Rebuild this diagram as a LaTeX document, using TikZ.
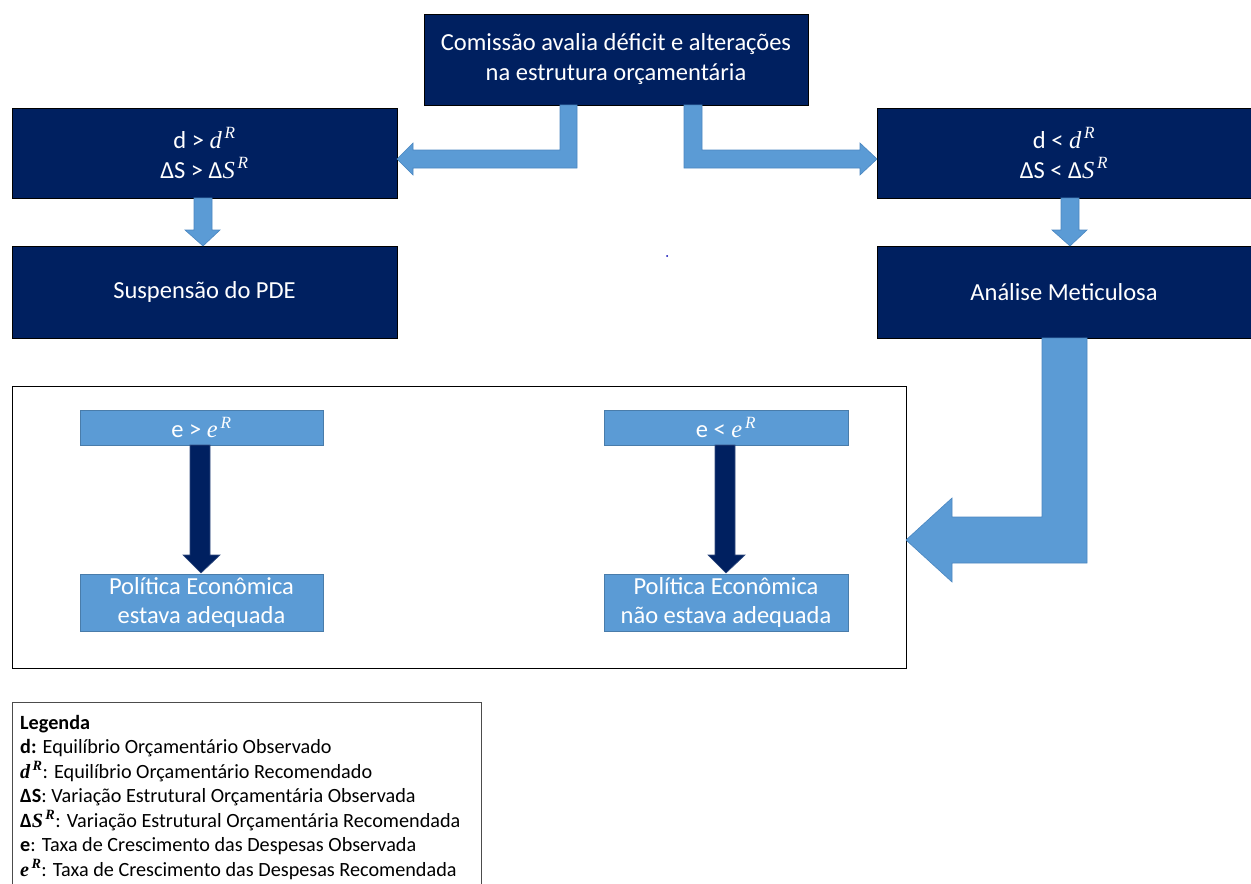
\documentclass[tikz,border=0pt]{standalone}
\usepackage{fontspec}
\setmainfont{Carlito}
\newfontfamily\mathfnt{Liberation Serif}
\newcommand{\mvar}[2]{{\mathfnt\itshape #1\textsuperscript{\,#2}}}
\usetikzlibrary{calc}
\definecolor{navy}{HTML}{002060}
\definecolor{lblue}{HTML}{5B9BD5}
\definecolor{ablue}{HTML}{4A86C0}
\begin{document}
\begin{tikzpicture}[x=1pt,y=-1pt,
  navybox/.style={draw=black,line width=0.8pt,fill=navy,text=white,inner sep=0pt,outer sep=0pt,anchor=north west,align=center,font=\fontsize{24.5}{30}\selectfont},
  bluebox/.style={draw=lblue!80!black,line width=0.6pt,fill=lblue,text=white,inner sep=0pt,outer sep=0pt,anchor=north west,align=center,font=\fontsize{24.5}{29}\selectfont},
  barrow/.style={fill=lblue,draw=ablue,line width=0.6pt,line join=miter},
  darrow/.style={fill=navy,draw=navy!80!white,line width=0.6pt}]
\useasboundingbox (0,0) rectangle (1251,884);
% main boxes
\node[navybox,minimum width=384pt,minimum height=91pt] (top) at (424,14) {Comissão avalia déficit e alterações\\na estrutura orçamentária};
\node[navybox,minimum width=385pt,minimum height=90pt] (L) at (12,108) {d > \mvar{d}{R}\\ΔS > Δ\mvar{S}{R}};
\node[navybox,minimum width=374pt,minimum height=90pt] (R) at (877,108) {d < \mvar{d}{R}\\ΔS < Δ\mvar{S}{R}};
\node[navybox,minimum width=385pt,minimum height=92pt] (S) at (12,246) {Suspensão do PDE};
\node[navybox,minimum width=374pt,minimum height=92pt] (A) at (877,246) {Análise Meticulosa};
% container
\node[draw=black,line width=0.8pt,minimum width=894pt,minimum height=282pt,anchor=north west,inner sep=0pt,outer sep=0pt] (C) at (12,386) {};
% inner boxes
\node[bluebox,minimum width=243pt,minimum height=35pt] (e1) at (80,410) {e > \mvar{e}{R}};
\node[bluebox,minimum width=244pt,minimum height=35pt] (e2) at (604,410) {e < \mvar{e}{R}};
\node[bluebox,minimum width=243pt,minimum height=57pt] (p1) at (80,574) {Política Econômica\\estava adequada};
\node[bluebox,minimum width=244pt,minimum height=57pt] (p2) at (604,574) {Política Econômica\\não estava adequada};
% bent arrows from top
\draw[barrow] (560,105) -- (577,105) -- (577,168) -- (413,168) -- (413,175) -- (L.east |- 0,159) -- (413,143) -- (413,150) -- (560,150) -- cycle;
\draw[barrow] (702,105) -- (684,105) -- (684,168) -- (860,168) -- (860,175) -- (R.west |- 0,159) -- (860,143) -- (860,150) -- (702,150) -- cycle;
% small down arrows
\draw[barrow] (194,198) -- (212,198) -- (212,230) -- (220,230) -- (203,246) -- (185,230) -- (194,230) -- cycle;
\draw[barrow] (1061,198) -- (1079,198) -- (1079,230) -- (1087,230) -- (1070,246) -- (1052,230) -- (1061,230) -- cycle;
% big bent arrow
\draw[barrow] (1042,338) -- (1087,338) -- (1087,563) -- (952,563) -- (952,582) -- (C.east |- 0,540) -- (952,498) -- (952,517) -- (1042,517) -- cycle;
% dark arrows
\draw[darrow] (190,445) -- (210,445) -- (210,555) -- (220,555) -- (201,573) -- (183,555) -- (190,555) -- cycle;
\draw[darrow] (715,445) -- (735,445) -- (735,555) -- (745,555) -- (726,573) -- (708,555) -- (715,555) -- cycle;
% dot
\fill[blue!70!black] (667,256) circle (1pt);
% legend
\node[draw=black!70,line width=0.8pt,minimum width=469pt,minimum height=190pt,anchor=north west,inner sep=0pt,outer sep=0pt] (leg) at (12,702) {};
\node[anchor=north west,align=left,inner sep=0pt,font=\fontsize{20.2}{24.5}\selectfont] (legtxt) at (20,715) {\textbf{Legenda}\\
\textbf{d:} Equilíbrio Orçamentário Observado\\
{\bfseries\mvar{d}{R}}: Equilíbrio Orçamentário Recomendado\\
\textbf{ΔS}: Variação Estrutural Orçamentária Observada\\
\textbf{Δ}{\bfseries\mvar{S}{R}}: Variação Estrutural Orçamentária Recomendada\\
\textbf{e}: Taxa de Crescimento das Despesas Observada\\
{\bfseries\mvar{e}{R}}: Taxa de Crescimento das Despesas Recomendada};
\end{tikzpicture}
\end{document}
